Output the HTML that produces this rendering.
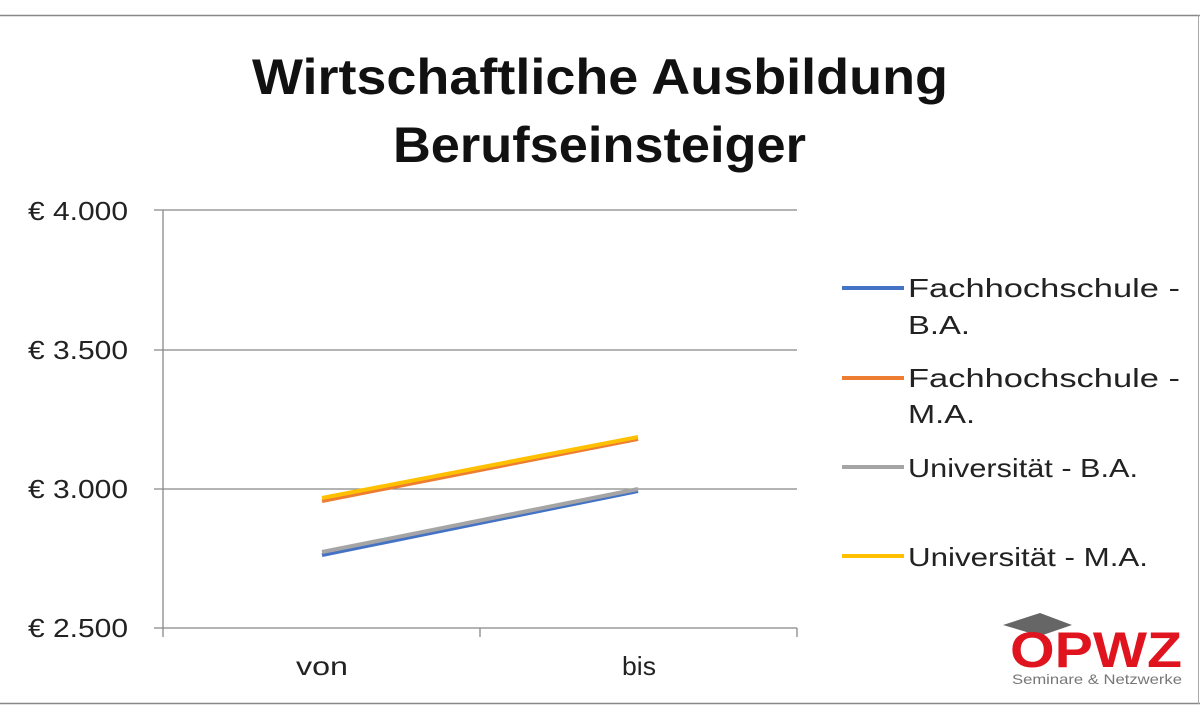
<!DOCTYPE html>
<html><head><meta charset="utf-8"><style>
html,body{margin:0;padding:0;background:#fff;}
svg{display:block;font-family:"Liberation Sans",sans-serif;}
</style></head><body>
<svg width="1200" height="720" viewBox="0 0 1200 720" xmlns="http://www.w3.org/2000/svg">
<rect x="0" y="0" width="1200" height="720" fill="#fff"/>
<line x1="0" y1="15.5" x2="1200" y2="15.5" stroke="#888" stroke-width="1.5"/>
<line x1="0" y1="703.5" x2="1200" y2="703.5" stroke="#888" stroke-width="1.5"/>
<line x1="1198.5" y1="15" x2="1198.5" y2="704" stroke="#aaa" stroke-width="1"/>
<text x="252" y="94" font-size="50" font-weight="bold" fill="#111" textLength="696" lengthAdjust="spacingAndGlyphs">Wirtschaftliche Ausbildung</text>
<text x="393" y="162" font-size="50" font-weight="bold" fill="#111" textLength="413" lengthAdjust="spacingAndGlyphs">Berufseinsteiger</text>
<g stroke="#888" stroke-width="1.3">
<line x1="154" y1="210" x2="797" y2="210"/>
<line x1="154" y1="350" x2="797" y2="350"/>
<line x1="154" y1="489" x2="797" y2="489"/>
<line x1="154" y1="628" x2="797" y2="628"/>
<line x1="163" y1="210" x2="163" y2="628"/>
<line x1="163" y1="628" x2="163" y2="637"/>
<line x1="480" y1="628" x2="480" y2="637"/>
<line x1="797" y1="628" x2="797" y2="637"/>
</g>
<g font-size="26" fill="#222">
<text x="28" y="220" textLength="100" lengthAdjust="spacingAndGlyphs">€ 4.000</text>
<text x="28" y="359" textLength="100" lengthAdjust="spacingAndGlyphs">€ 3.500</text>
<text x="28" y="498" textLength="100" lengthAdjust="spacingAndGlyphs">€ 3.000</text>
<text x="28" y="637" textLength="100" lengthAdjust="spacingAndGlyphs">€ 2.500</text>
</g>
<g font-size="26" fill="#222">
<text x="296" y="675" textLength="52" lengthAdjust="spacingAndGlyphs">von</text>
<text x="622" y="675" textLength="34" lengthAdjust="spacingAndGlyphs">bis</text>
</g>
<g stroke-width="4" stroke-linecap="butt">
<line x1="322" y1="555" x2="638" y2="491" stroke="#4472c4"/>
<line x1="322" y1="552" x2="638" y2="489" stroke="#a5a5a5"/>
<line x1="322" y1="501" x2="638" y2="439" stroke="#ed7d31"/>
<line x1="322" y1="498" x2="638" y2="437" stroke="#ffc000"/>
</g>
<g stroke-width="4">
<line x1="842" y1="288" x2="904" y2="288" stroke="#4472c4"/>
<line x1="842" y1="378" x2="904" y2="378" stroke="#ed7d31"/>
<line x1="842" y1="467" x2="904" y2="467" stroke="#a5a5a5"/>
<line x1="842" y1="556" x2="904" y2="556" stroke="#ffc000"/>
</g>
<g font-size="26" fill="#222">
<text x="908" y="297" textLength="272" lengthAdjust="spacingAndGlyphs">Fachhochschule -</text>
<text x="908" y="334" textLength="62" lengthAdjust="spacingAndGlyphs">B.A.</text>
<text x="908" y="387" textLength="272" lengthAdjust="spacingAndGlyphs">Fachhochschule -</text>
<text x="908" y="423" textLength="67" lengthAdjust="spacingAndGlyphs">M.A.</text>
<text x="908" y="477" textLength="230" lengthAdjust="spacingAndGlyphs">Universität - B.A.</text>
<text x="908" y="566" textLength="240" lengthAdjust="spacingAndGlyphs">Universität - M.A.</text>
</g>
<g>
<polygon points="1003,625 1040,613 1072,625 1040,636" fill="#666"/>
<text x="1010" y="667" font-size="50" font-weight="bold" fill="#e0141e" textLength="172" lengthAdjust="spacingAndGlyphs">OPWZ</text>
<text x="1012" y="684" font-size="14" fill="#777" textLength="170" lengthAdjust="spacingAndGlyphs">Seminare &amp; Netzwerke</text>
</g>
</svg>
</body></html>
